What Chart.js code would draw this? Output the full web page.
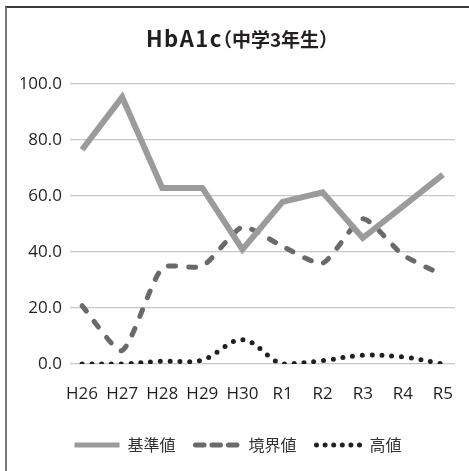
<!DOCTYPE html>
<html lang="ja">
<head>
  <meta charset="UTF-8">
  <title>HbA1c（中学3年生）</title>
  <script src="https://cdn.jsdelivr.net/npm/chart.js"></script>
  <style>
    body {
      margin: 0;
      background: #fff;
    }
    .frame {
      position: absolute;
      left: 5px;
      top: 6px;
      width: 464px;
      height: 465px;
      border-top: 2px solid #3a3a3a;
      border-left: 2px solid #7a7a7a;
      box-sizing: border-box;
    }
    .wrap {
      position: absolute;
      left: 0;
      top: 0;
      width: 469px;
      height: 471px;
    }
  </style>
</head>
<body>
  <div class="frame"></div>
  <div class="wrap"><canvas id="hba1c" width="469" height="471"></canvas></div>

  <script>
    // 年度
    const years = ['H26', 'H27', 'H28', 'H29', 'H30', 'R1', 'R2', 'R3', 'R4', 'R5'];
    // 各区分の割合（%）
    const kijun = [76.5, 95.3, 62.9, 62.9, 40.9, 57.9, 61.3, 45.0, 56.3, 67.6];
    const kyokai = [20.8, 4.8, 34.3, 34.9, 48.9, 42.0, 36.0, 51.9, 39.0, 31.7];
    const koochi = [0.0, 0.0, 1.0, 1.4, 8.7, 0.0, 1.2, 3.1, 2.5, 0.0];
    const yTicks = [0, 20, 40, 60, 80, 100];
    const titleMain = 'HbA1c';
    const titleSub = '（中学3年生）';

    const tickFont = { family: "'Open Sans', sans-serif", size: 17 };
    const toPoints = arr => arr.map((v, i) => ({ x: i, y: v }));
    // 凡例用の線種（凡例では少し詰める）
    const legendDash = [[], [8.5, 8], [0, 8.6]];

    // タイトルは「HbA1c」を大きく、括弧内を小さく描く
    const twoSizeTitle = {
      id: 'twoSizeTitle',
      afterDraw(chart) {
        const ctx = chart.ctx;
        const mainFont = "bold 22px 'Noto Sans CJK JP', sans-serif";
        const subFont = "bold 19px 'Noto Sans CJK JP', sans-serif";
        ctx.save();
        ctx.fillStyle = '#231f20';
        ctx.textBaseline = 'alphabetic';
        ctx.textAlign = 'left';
        ctx.font = mainFont;
        ctx.letterSpacing = '1.5px';
        const w1 = ctx.measureText(titleMain).width;
        ctx.letterSpacing = '0px';
        ctx.font = subFont;
        const w2 = ctx.measureText(titleSub).width;
        const left = 238 - (w1 + w2 - 18) / 2;
        ctx.font = mainFont;
        ctx.letterSpacing = '1.5px';
        ctx.fillText(titleMain, left, 47);
        ctx.letterSpacing = '0px';
        ctx.font = subFont;
        ctx.fillText(titleSub, left + w1 - 10, 47);
        ctx.restore();
      }
    };

    new Chart(document.getElementById('hba1c'), {
      type: 'line',
      data: {
        datasets: [
          {
            label: '基準値',
            data: toPoints(kijun),
            borderColor: '#9b9b9b',
            backgroundColor: '#9b9b9b',
            borderWidth: 6,
            borderCapStyle: 'butt',
            tension: 0
          },
          {
            label: '境界値',
            data: toPoints(kyokai),
            borderColor: '#6a6a6c',
            backgroundColor: '#6a6a6c',
            borderWidth: 5,
            borderDash: [7, 13],
            borderCapStyle: 'round',
            tension: 0.2
          },
          {
            label: '高値',
            data: toPoints(koochi),
            borderColor: '#231f20',
            backgroundColor: '#231f20',
            borderWidth: 5,
            borderDash: [0, 9.8],
            borderCapStyle: 'round',
            tension: 0.35
          }
        ]
      },
      plugins: [twoSizeTitle],
      options: {
        responsive: false,
        animation: false,
        layout: { padding: { left: 21, right: 14, top: 84, bottom: 8 } },
        elements: { point: { radius: 0 } },
        plugins: {
          title: { display: false },
          legend: {
            position: 'bottom',
            labels: {
              usePointStyle: true,
              pointStyle: 'line',
              pointStyleWidth: 45,
              padding: 20,
              color: '#333',
              font: { family: "'Noto Sans CJK JP', sans-serif", size: 16 },
              // 凡例の線種をデータセットの線種に合わせる
              generateLabels: chart => Chart.defaults.plugins.legend.labels.generateLabels(chart).map(item => {
                const ds = chart.data.datasets[item.datasetIndex];
                return Object.assign(item, {
                  lineDash: legendDash[item.datasetIndex],
                  lineCap: ds.borderCapStyle,
                  lineWidth: item.datasetIndex === 0 ? 5 : ds.borderWidth,
                  strokeStyle: ds.borderColor,
                  fillStyle: ds.borderColor
                });
              })
            }
          },
          tooltip: { enabled: false }
        },
        scales: {
          x: {
            type: 'linear',
            min: -0.3,
            max: 9.3,
            grid: { display: false },
            border: { display: false },
            afterBuildTicks: scale => {
              scale.ticks = years.map((y, i) => ({ value: i }));
            },
            afterFit: scale => { scale.height = 53; },
            ticks: {
              autoSkip: false,
              maxRotation: 0,
              padding: 12,
              color: '#231f20',
              font: tickFont,
              callback: v => years[v]
            }
          },
          y: {
            min: 0,
            max: 100,
            afterBuildTicks: scale => {
              scale.ticks = yTicks.map(v => ({ value: v }));
            },
            afterFit: scale => { scale.width = 49; },
            grid: { color: '#c8c8c8', lineWidth: 1.2, drawTicks: false },
            border: { display: false },
            ticks: {
              padding: 8,
              color: '#231f20',
              font: tickFont,
              callback: v => v.toFixed(1)
            }
          }
        }
      }
    });
  </script>
</body>
</html>
